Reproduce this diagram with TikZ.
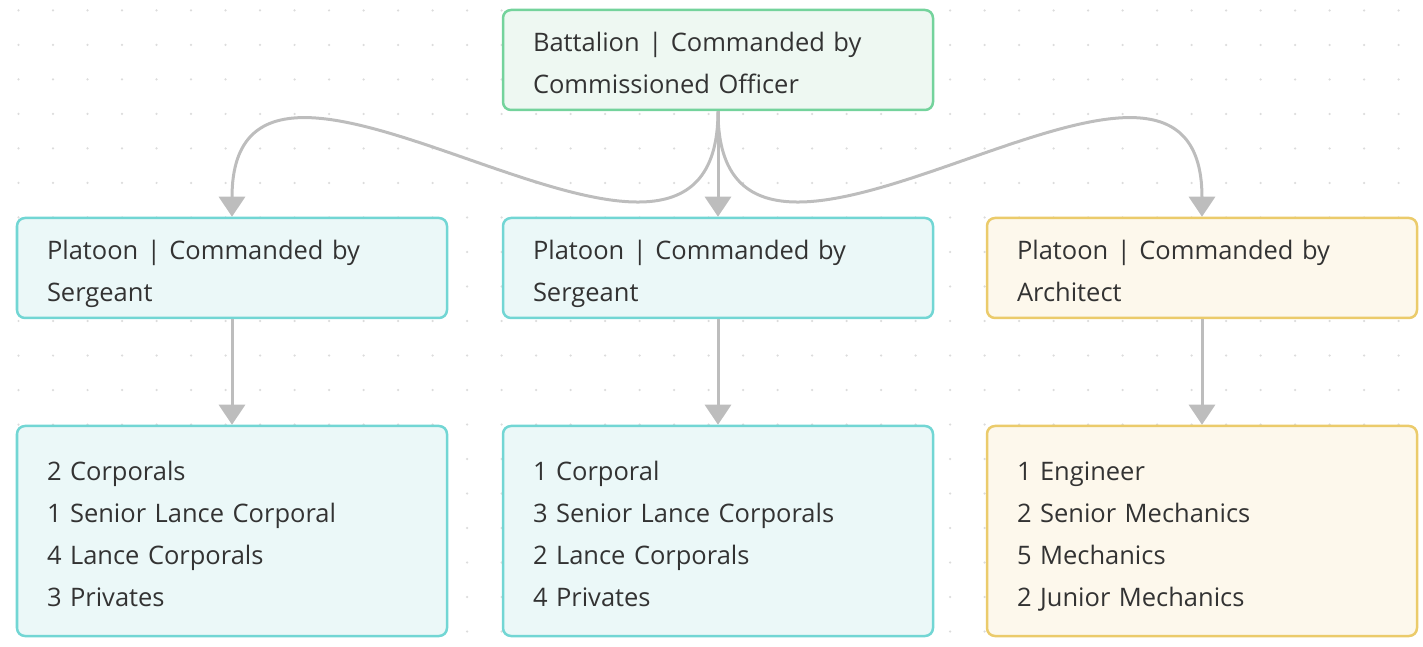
\documentclass[tikz,border=0pt]{standalone}
\usepackage{fontspec}
\setmainfont{Open Sans}
\usetikzlibrary{arrows.meta}

\definecolor{gridgray}{HTML}{DCDCDC}
\definecolor{linkgray}{HTML}{BDBDBD}
\definecolor{textgray}{HTML}{333333}
\definecolor{bnborder}{HTML}{74D39C}
\definecolor{bnfill}{HTML}{EEF8F2}
\definecolor{ptborder}{HTML}{72D6D4}
\definecolor{ptfill}{HTML}{EBF8F8}
\definecolor{mcborder}{HTML}{EBCB6B}
\definecolor{mcfill}{HTML}{FDF8EC}

\newcommand{\topstrut}{\rule{0pt}{\dimexpr0.7\baselineskip+0.18cm\relax}}

\tikzset{
    unit/.style={rectangle, rounded corners=0.16cm, line width=0.05cm,
        minimum width=8.6cm, minimum height=2cm, text width=7.4cm,
        inner xsep=0.6cm, inner ysep=0.02cm, align=left, text=textgray,
        font=\fontsize{14.5}{23.9}\selectfont,
        execute at begin node=\topstrut, execute at end node=\strut},
    battalion/.style={unit, draw=bnborder, fill=bnfill},
    platoon/.style={unit, draw=ptborder, fill=ptfill},
    crew/.style={unit, draw=mcborder, fill=mcfill},
    roster/.style={minimum height=4.2cm},
    link/.style={draw=linkgray, line width=0.06cm,
        -{Triangle[width=0.52cm, length=0.4cm]}}
}

\begin{document}
\begin{tikzpicture}
    \useasboundingbox (0,0) rectangle (28.46,-12.94);
    % dotted background
    \foreach \i in {0,...,40}
        \foreach \j in {0,...,18}
            \fill[gridgray] (0.37+0.69*\i, -0.21-0.69*\j) circle (0.025);

    \node[battalion] (bn) at (14.36,-1.2) {Battalion | Commanded by\\Commissioned Officer};

    \node[platoon] (pt1) at (4.64,-5.36) {Platoon | Commanded by\\Sergeant};
    \node[platoon] (pt2) at (14.36,-5.36) {Platoon | Commanded by\\Sergeant};
    \node[crew] (pt3) at (24.04,-5.36) {Platoon | Commanded by\\Architect};

    \node[platoon, roster] (r1) at (4.64,-10.62) {2 Corporals\\1 Senior Lance Corporal\\4 Lance Corporals\\3 Privates};
    \node[platoon, roster] (r2) at (14.36,-10.62) {1 Corporal\\3 Senior Lance Corporals\\2 Lance Corporals\\4 Privates};
    \node[crew, roster] (r3) at (24.04,-10.62) {1 Engineer\\2 Senior Mechanics\\5 Mechanics\\2 Junior Mechanics};

    \draw[link] (bn.south) .. controls +(0,-5.3) and +(0,5.3) .. (pt1.north);
    \draw[link] (bn.south) -- (pt2.north);
    \draw[link] (bn.south) .. controls +(0,-5.3) and +(0,5.3) .. (pt3.north);

    \draw[link] (pt1) -- (r1);
    \draw[link] (pt2) -- (r2);
    \draw[link] (pt3) -- (r3);
\end{tikzpicture}
\end{document}
